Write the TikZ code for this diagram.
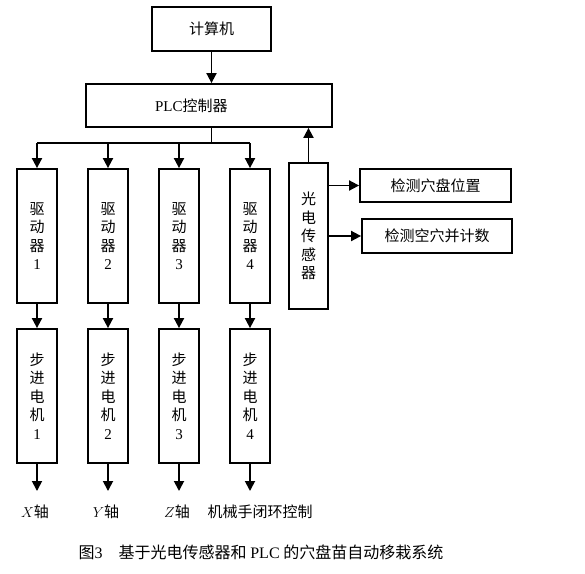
\documentclass[tikz,border=0pt]{standalone}
\usepackage{fontspec}
\setmainfont{Liberation Serif}
\newfontfamily\cjk{Noto Sans CJK SC}
\usetikzlibrary{arrows.meta}
\tikzset{
  box/.style={draw, line width=1.8pt, inner sep=0pt, align=center, font=\cjk\fontsize{15}{18.5}\selectfont},
  arr/.style={line width=1.8pt, -{Triangle[length=10pt,width=10pt]}},
  lbl/.style={inner sep=0pt, font=\cjk\fontsize{15}{18}\selectfont}
}
\begin{document}
\begin{tikzpicture}[x=1pt,y=-1pt] %control system block diagram
\useasboundingbox (0,0) rectangle (585,573);

\node [box, minimum width=119, minimum height=44] (pc) at (211.5,29) {计算机};
\node [box, minimum width=246, minimum height=43, text width=246, align=left] (plc) at (209,105.5) {\hspace*{69pt}{\rmfamily PLC}控制器};
\draw [arr] (pc.south) -- (plc.north -| pc.south);

\coordinate (bus) at (211.5,143);
\draw [line width=1.8pt] (plc.south -| bus) -- (bus);
\draw [line width=1.8pt] (37,143) -- (250,143);

\foreach \i/\x/\ax in {1/37/$X$,2/108/$Y$,3/179/$Z$} {
  \node [box, minimum width=40, minimum height=134] (drv\i) at (\x,236) {驱\\动\\器\\{\rmfamily\i}};
  \node [box, minimum width=40, minimum height=134] (mot\i) at (\x,396) {步\\进\\电\\机\\{\rmfamily\i}};
  \coordinate (end\i) at (\x,491);
  \node [lbl] (ax\i) at (\x-2,512) {\ax 轴};
  \draw [arr] (drv\i.north |- bus) -- (drv\i.north);
  \draw [arr] (drv\i.south) -- (mot\i.north);
  \draw [arr] (mot\i.south) -- (end\i);
}
\node [box, minimum width=40, minimum height=134] (drv4) at (250,236) {驱\\动\\器\\{\rmfamily 4}};
\node [box, minimum width=40, minimum height=134] (mot4) at (250,396) {步\\进\\电\\机\\{\rmfamily 4}};
\coordinate (end4) at (250,491);
\node [lbl] (ax4) at (260,512) {机械手闭环控制};
\draw [arr] (drv4.north |- bus) -- (drv4.north);
\draw [arr] (drv4.south) -- (mot4.north);
\draw [arr] (mot4.south) -- (end4);

\node [box, minimum width=39, minimum height=146] (sens) at (308.5,236) {光\\电\\传\\感\\器};
\draw [arr] (sens.north) -- (plc.south -| sens.north);

\node [box, minimum width=151, minimum height=33] (pos) at (435.5,185.5) {检测穴盘位置};
\node [box, minimum width=150, minimum height=34] (cnt) at (437,236) {检测空穴并计数};
\draw [arr] (sens.east |- pos.west) -- (pos.west);
\draw [arr] (sens.east |- cnt.west) -- (cnt.west);

\node [lbl, font=\cjk\fontsize{16}{18}\selectfont] (cap) at (261,552) {图{\rmfamily 3}\quad 基于光电传感器和 {\rmfamily PLC} 的穴盘苗自动移栽系统};

\end{tikzpicture}
\end{document}
